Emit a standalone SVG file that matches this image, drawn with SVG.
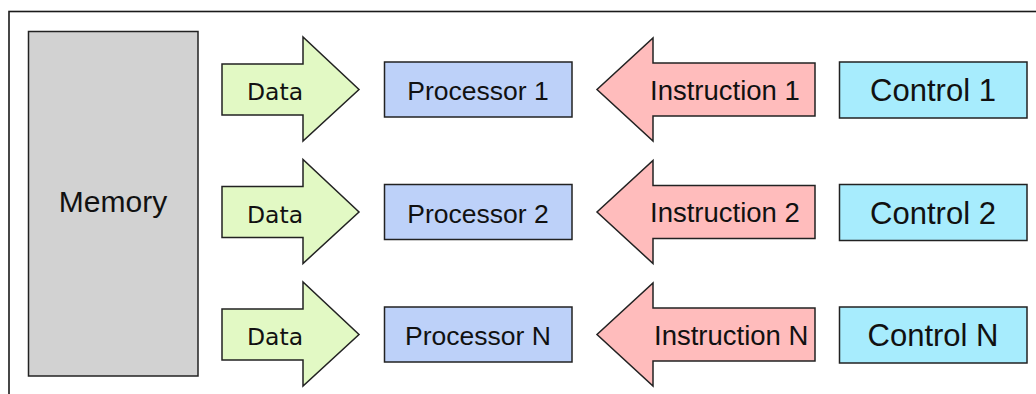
<svg xmlns="http://www.w3.org/2000/svg" width="1036" height="394" viewBox="0 0 1036 394">
<style>
.frame{fill:#fff;stroke:#1a1a1a;stroke-width:1.6}
.shape{stroke:#222;stroke-width:1.5;stroke-linejoin:miter}
.mem{fill:#d2d2d2}
.data{fill:#e2f9c4}
.proc{fill:#bdd1f9}
.instr{fill:#ffbcbc}
.ctrl{fill:#a7ecfd}
text{font-family:"Liberation Sans",Arial,sans-serif;fill:#111}
.t-data{font-family:"DejaVu Sans",Verdana,sans-serif;font-size:23.5px}
.t-proc{font-size:26.5px;text-anchor:middle}
.t-instr{font-size:27.5px}
.t-ctrl{font-size:31px;text-anchor:middle}
.t-mem{font-size:30px;text-anchor:middle}
</style>
<rect width="1036" height="394" fill="#fff"/>
<rect class="frame" x="9" y="11.5" width="1040" height="400"/>
<g id="memory">
<rect class="shape mem" x="28.5" y="31.5" width="169.5" height="344.5"/>
<text class="t-mem" x="113" y="212">Memory</text>
</g>
<g id="connectors">
<g id="data1"><path class="shape data" d="M222,64 H303 V37 L359,89.5 L303,141 V115 H222 Z"/><text class="t-data" x="247" y="100">Data</text></g>
<g id="data2"><path class="shape data" d="M222,186.5 H303 V159.5 L359,212 L303,263.5 V237.5 H222 Z"/><text class="t-data" x="247" y="222.5">Data</text></g>
<g id="dataN"><path class="shape data" d="M222,309 H303 V282 L359,334.5 L303,386 V360 H222 Z"/><text class="t-data" x="247" y="345">Data</text></g>
<g id="instr1"><path class="shape instr" d="M815,63 V116 H653 V141 L597,89.5 L653,38 V63 Z"/><text class="t-instr" x="650" y="99.5">Instruction 1</text></g>
<g id="instr2"><path class="shape instr" d="M815,185.5 V238.5 H653 V263.5 L597,212 L653,160.5 V185.5 Z"/><text class="t-instr" x="650" y="222">Instruction 2</text></g>
<g id="instrN"><path class="shape instr" d="M815,308 V361 H653 V386 L597,334.5 L653,283 V308 Z"/><text class="t-instr" x="654" y="344.5">Instruction N</text></g>
</g>
<g id="proc1"><rect class="shape proc" x="384.5" y="62" width="187.5" height="55"/><text class="t-proc" x="478" y="100">Processor 1</text></g>
<g id="proc2"><rect class="shape proc" x="384.5" y="184.5" width="187.5" height="55"/><text class="t-proc" x="478" y="222.5">Processor 2</text></g>
<g id="procN"><rect class="shape proc" x="384.5" y="307" width="187.5" height="55"/><text class="t-proc" x="478" y="345">Processor N</text></g>
<g id="ctrl1"><rect class="shape ctrl" x="839.5" y="62" width="187.5" height="56"/><text class="t-ctrl" x="933" y="101">Control 1</text></g>
<g id="ctrl2"><rect class="shape ctrl" x="839.5" y="184.5" width="187.5" height="56"/><text class="t-ctrl" x="933" y="223.5">Control 2</text></g>
<g id="ctrlN"><rect class="shape ctrl" x="839.5" y="307" width="187.5" height="56"/><text class="t-ctrl" x="933" y="346">Control N</text></g>
</svg>
